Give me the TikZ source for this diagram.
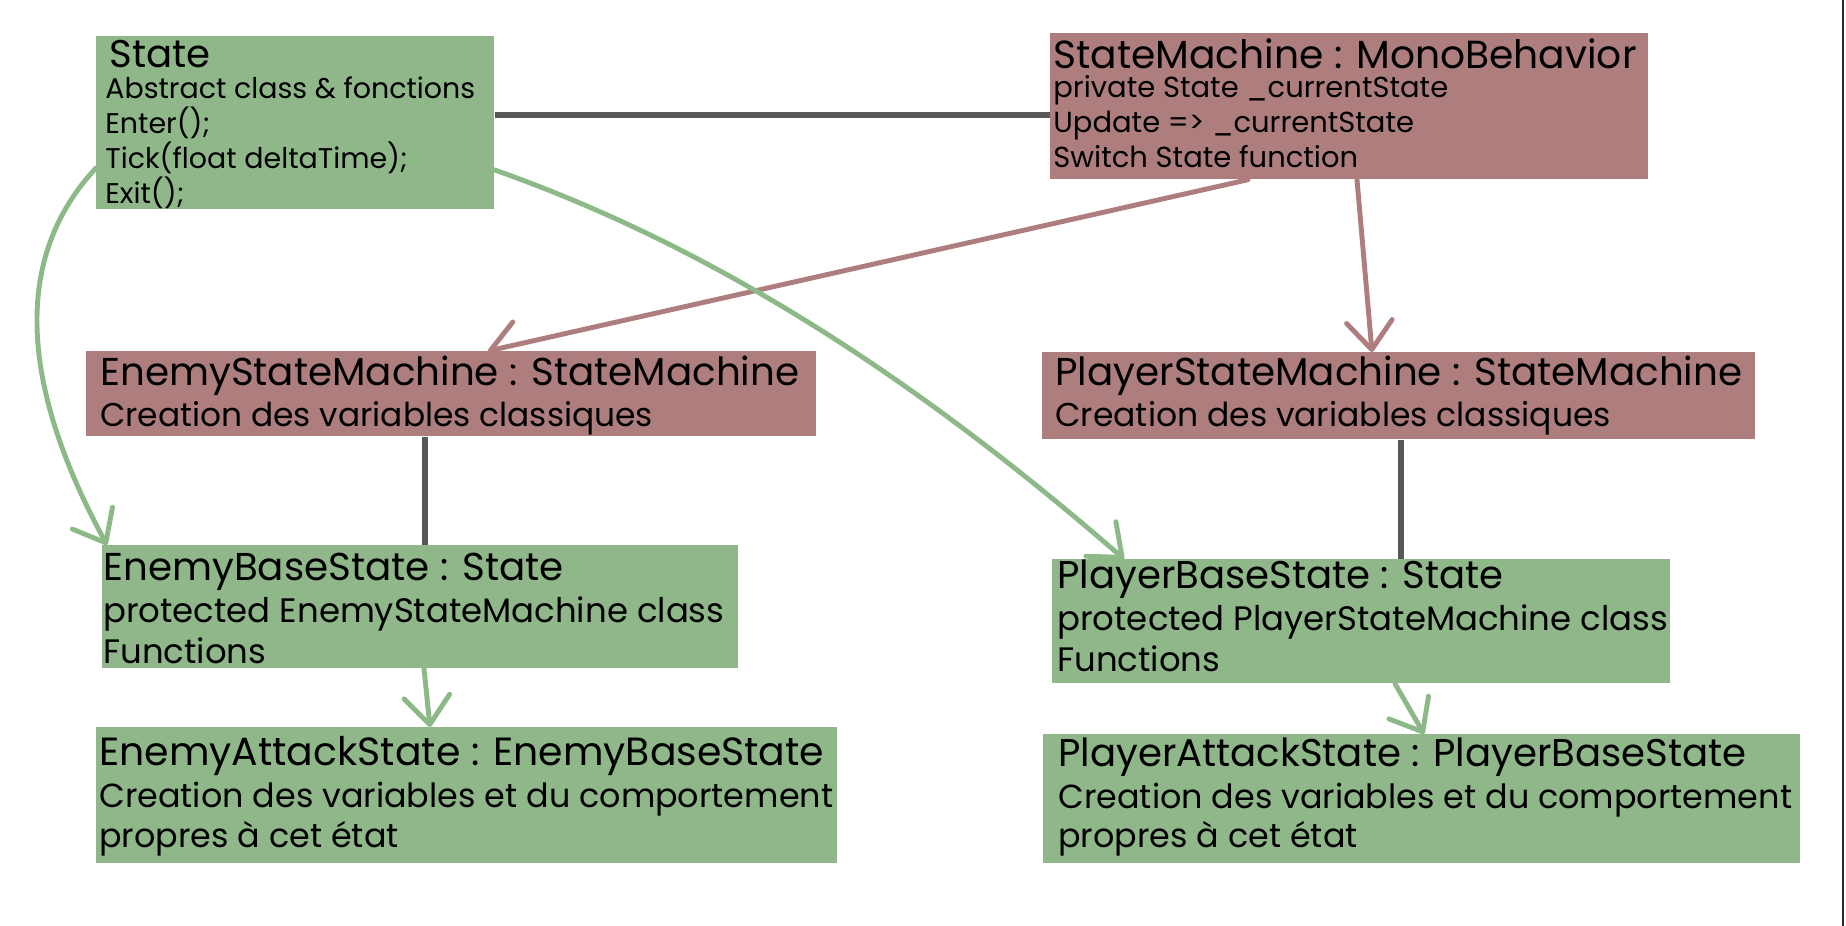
\documentclass[tikz,border=0pt]{standalone}
\usepackage{fontspec}
\setmainfont{Poppins}
\usetikzlibrary{arrows.meta}

\definecolor{boxgreen}{RGB}{143,183,137}
\definecolor{boxrose}{RGB}{173,126,125}
\definecolor{linkgray}{RGB}{88,88,88}
\definecolor{arrowgreen}{RGB}{141,185,137}
\definecolor{arrowrose}{RGB}{173,126,125}
\definecolor{edgegray}{RGB}{40,40,40}

% one pixel of the original sketch
\newlength{\px}
\setlength{\px}{0.02cm}

% box text: width, height, first baseline, left pad, lines
\newcommand{\boxtext}[5]{%
  \parbox[t][#2\px][t]{#1\px}{\raggedright\leftskip=#4\px\hyphenpenalty=10000
    \rule{0pt}{#3\px}#5}}
\newcommand{\ttl}[2]{{\fontsize{#1}{#1}\selectfont #2}}
\newcommand{\bdy}[1]{\fontsize{#1}{#1}\selectfont}

\begin{document}
\begin{tikzpicture}[x=0.02cm, y=-0.02cm,
    gbox/.style={fill=boxgreen, anchor=north west, inner sep=0pt},
    rbox/.style={fill=boxrose, anchor=north west, inner sep=0pt},
    link/.style={draw=linkgray, line width=3pt},
    inherit/.style={draw=arrowgreen, line width=2.8pt, line cap=round,
      -{Straight Barb[length=16pt,width=26pt,round]}},
    owns/.style={draw=arrowrose, line width=2.8pt, line cap=round,
      -{Straight Barb[length=16pt,width=26pt,round]}}]

\useasboundingbox (0,0) rectangle (1846,926);

% Base classes
\node[gbox] (state) at (96,36) {\boxtext{398}{173}{31}{9}{%
  \hspace*{4\px}\ttl{22}{State}\\[-4\px]
  \bdy{16.2}\baselineskip=35\px
  Abstract class \& fonctions\\
  Enter();\\
  Tick(float deltaTime);\\
  Exit();}};
\node[rbox] (sm) at (1050,33) {\boxtext{598}{146}{35}{3}{%
  \ttl{22.3}{StateMachine : MonoBehavior}\\[-6\px]
  \bdy{16.5}\baselineskip=35\px
  private State \_currentState\\
  Update => \_currentState\\
  Switch State function}};

% State machines
\node[rbox] (esm) at (86,351) {\boxtext{730}{85}{34}{14}{%
  \ttl{22.1}{EnemyStateMachine : StateMachine}\\[0\px]
  \bdy{18.7}\baselineskip=41\px
  Creation des variables classiques}};
\node[rbox] (psm) at (1042,352) {\boxtext{713}{87}{33}{13}{%
  \ttl{22.1}{PlayerStateMachine : StateMachine}\\[0\px]
  \bdy{18.8}\baselineskip=41\px
  Creation des variables classiques}};

% Base states
\node[gbox] (ebase) at (102,545) {\boxtext{636}{123}{35}{1}{%
  \ttl{22.1}{EnemyBaseState : State}\\[1\px]
  \bdy{19.3}\baselineskip=41\px
  protected EnemyStateMachine class\\
  Functions}};
\node[gbox] (pbase) at (1052,559) {\boxtext{618}{124}{29}{5}{%
  \ttl{22}{PlayerBaseState : State}\\[1\px]
  \bdy{19.3}\baselineskip=41\px
  protected PlayerStateMachine class\\
  Functions}};

% Attack states
\node[gbox] (eatk) at (96,727) {\boxtext{741}{136}{38}{3}{%
  \ttl{22.4}{EnemyAttackState : EnemyBaseState}\\[2\px]
  \bdy{19}\baselineskip=40\px
  Creation des variables et du comportement\\
  propres à cet état}};
\node[gbox] (patk) at (1043,734) {\boxtext{757}{129}{32}{15}{%
  \ttl{22}{PlayerAttackState : PlayerBaseState}\\[3\px]
  \bdy{19}\baselineskip=39\px
  Creation des variables et du comportement\\
  propres à cet état}};

% Plain links
\coordinate (s1) at ([yshift=-79\px]state.north east);
\draw[link] (s1) -- (s1 -| sm.west);
\coordinate (e1) at ([xshift=339\px]esm.south west);
\draw[link] (e1) -- (e1 |- ebase.north);
\coordinate (p1) at ([xshift=359\px]psm.south west);
\draw[link] (p1) -- (p1 |- pbase.north);

% Inheritance from StateMachine
\draw[owns] ([xshift=198\px]sm.south west) -- ([xshift=402\px]esm.north west);
\draw[owns] ([xshift=307\px]sm.south west) -- ([xshift=330\px]psm.north west);

% Inheritance from State
\draw[inherit] ([yshift=-132\px]state.north west)
  .. controls +(-98,105) and +(-70,-129) .. ([xshift=5\px]ebase.north west);
\draw[inherit] ([yshift=-134\px]state.north east)
  .. controls +(236,83) and +(-189,-164) .. ([xshift=72\px]pbase.north west);
\draw[inherit] ([xshift=322\px]ebase.south west) -- ([xshift=334\px]eatk.north west);
\draw[inherit] ([xshift=343\px]pbase.south west) -- ([xshift=381\px]patk.north west);

% page edge
\draw[edgegray, line width=1.6pt] (1843,0) -- (1843,926);
\end{tikzpicture}
\end{document}
